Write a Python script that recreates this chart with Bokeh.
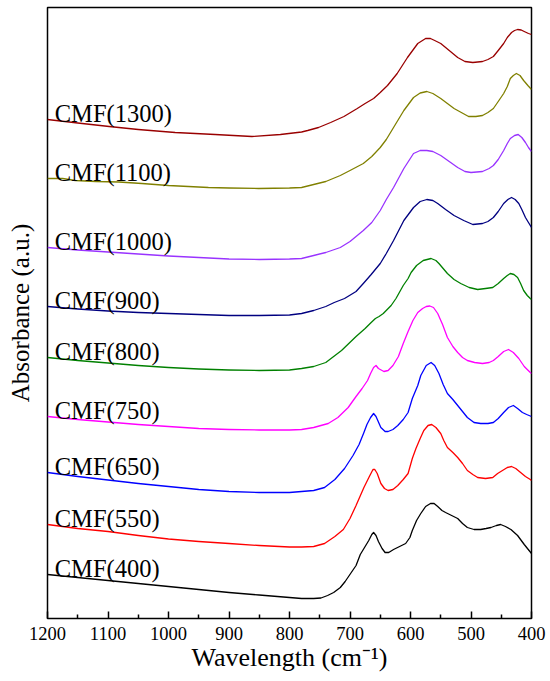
from bokeh.plotting import figure
from bokeh.models import Range1d, FixedTicker, ColumnDataSource
from bokeh.core.properties import value
from bokeh.embed import file_html
from bokeh.resources import INLINE

# ---- data: (wavenumber cm^-1, absorbance a.u. incl. stacking offset) ----
cmf400 = [(1200,0.44),(1150,0.41),(1100,0.38),(1050,0.35),(1000,0.32),(950,0.29),(900,0.26),(850,0.235),
          (800,0.21),(780,0.20),(760,0.20),(748,0.205),(737,0.23),(727,0.26),(716,0.31),(708,0.37),(699,0.45),
          (690,0.53),(683,0.64),(676,0.71),(669,0.78),(664,0.84),(661,0.86),(657,0.83),(653,0.77),(647,0.70),
          (642,0.66),(636,0.66),(628,0.69),(618,0.72),(608,0.75),(601,0.81),(597,0.88),(590,0.98),(583,1.05),
          (575,1.12),(567,1.15),(561,1.15),(555,1.12),(548,1.08),(542,1.06),(532,1.03),(522,1.00),(514,0.95),
          (506,0.91),(495,0.89),(484,0.89),(475,0.90),(467,0.91),(458,0.93),(451,0.94),(443,0.92),(434,0.89),
          (423,0.83),(412,0.74),(404,0.68),(400,0.65)]
cmf550 = [(1200,0.94),(1150,0.90),(1100,0.87),(1050,0.83),(1000,0.795),(950,0.77),(900,0.75),(850,0.73),
          (800,0.715),(780,0.715),(760,0.72),(742,0.75),(725,0.82),(711,0.89),(700,1.00),(690,1.13),(677,1.31),
          (668,1.42),(662,1.49),(659,1.49),(655,1.45),(649,1.35),(643,1.30),(637,1.28),(629,1.29),(621,1.33),
          (612,1.39),(604,1.45),(597,1.60),(591,1.70),(584,1.80),(578,1.88),(571,1.93),(565,1.94),(558,1.91),
          (550,1.85),(545,1.78),(539,1.71),(530,1.66),(522,1.61),(514,1.55),(506,1.48),(497,1.44),(489,1.41),
          (476,1.40),(464,1.41),(456,1.45),(448,1.48),(440,1.51),(433,1.52),(426,1.50),(418,1.46),(410,1.42),
          (402,1.39),(400,1.38)]
cmf650 = [(1200,1.46),(1150,1.42),(1100,1.385),(1050,1.35),(1000,1.32),(950,1.29),(900,1.27),(850,1.26),
          (800,1.26),(780,1.27),(760,1.28),(742,1.31),(725,1.39),(709,1.50),(695,1.63),(685,1.74),(677,1.86),
          (672,1.94),(666,2.01),(661,2.05),(657,2.02),(649,1.91),(642,1.87),(637,1.87),(629,1.89),(621,1.93),
          (612,1.99),(604,2.06),(597,2.20),(588,2.33),(583,2.43),(574,2.53),(566,2.56),(560,2.53),(553,2.45),
          (546,2.34),(539,2.25),(530,2.19),(522,2.13),(514,2.07),(506,2.01),(495,1.96),(484,1.95),(472,1.95),
          (463,1.96),(455,2.00),(446,2.06),(438,2.11),(430,2.13),(423,2.10),(415,2.06),(408,2.04),(400,2.02)]
cmf750 = [(1200,2.02),(1150,1.99),(1100,1.965),(1050,1.94),(1000,1.92),(950,1.90),(900,1.89),(850,1.885),
          (800,1.885),(780,1.89),(760,1.91),(736,1.95),(720,2.01),(703,2.11),(690,2.22),(680,2.30),(671,2.38),
          (666,2.45),(661,2.51),(657,2.53),(653,2.50),(644,2.47),(637,2.48),(629,2.53),(620,2.62),(612,2.75),
          (604,2.87),(596,2.98),(588,3.06),(580,3.10),(574,3.12),(568,3.125),(562,3.11),(555,3.05),(547,2.94),
          (539,2.81),(530,2.72),(522,2.66),(514,2.61),(506,2.58),(494,2.56),(481,2.55),(470,2.56),(463,2.58),
          (455,2.62),(446,2.67),(438,2.69),(430,2.66),(421,2.60),(412,2.52),(402,2.46),(400,2.45)]
cmf800 = [(1200,2.61),(1150,2.58),(1100,2.555),(1050,2.53),(1000,2.51),(950,2.495),(900,2.485),(850,2.48),
          (800,2.485),(780,2.50),(760,2.52),(740,2.56),(714,2.68),(690,2.82),(675,2.90),(665,2.96),(658,3.00),
          (652,3.02),(645,3.05),(632,3.13),(624,3.20),(612,3.33),(604,3.40),(599,3.46),(590,3.53),(579,3.58),
          (566,3.60),(558,3.58),(553,3.55),(546,3.50),(539,3.45),(528,3.39),(517,3.35),(503,3.31),(489,3.29),
          (476,3.30),(464,3.31),(455,3.35),(446,3.40),(440,3.43),(435,3.45),(429,3.44),(423,3.41),(418,3.35),
          (413,3.28),(407,3.23),(402,3.20),(400,3.19)]
cmf900 = [(1200,3.12),(1150,3.095),(1100,3.075),(1050,3.06),(1000,3.05),(950,3.04),(900,3.03),(850,3.03),
          (800,3.035),(780,3.05),(760,3.08),(740,3.12),(726,3.16),(709,3.20),(690,3.27),(678,3.35),(665,3.44),
          (650,3.55),(640,3.65),(628,3.78),(611,3.98),(595,4.11),(584,4.17),(573,4.19),(563,4.18),(555,4.15),
          (542,4.09),(528,4.03),(512,3.98),(497,3.94),(481,3.95),(472,3.97),(463,4.01),(455,4.07),(446,4.15),
          (439,4.19),(433,4.21),(427,4.19),(421,4.15),(416,4.09),(410,4.01),(405,3.96),(400,3.91)]
cmf1000 = [(1200,3.71),(1150,3.685),(1100,3.665),(1050,3.645),(1000,3.625),(950,3.61),(900,3.595),(850,3.59),
           (800,3.595),(780,3.60),(760,3.63),(740,3.66),(716,3.71),(700,3.77),(678,3.88),(664,3.96),(650,4.08),
           (640,4.19),(628,4.31),(611,4.50),(595,4.65),(584,4.68),(573,4.68),(563,4.67),(550,4.63),(536,4.57),
           (522,4.51),(510,4.47),(500,4.46),(481,4.47),(470,4.50),(463,4.53),(455,4.59),(446,4.68),(440,4.75),
           (435,4.80),(428,4.83),(422,4.84),(416,4.81),(410,4.76),(405,4.71),(400,4.67)]
cmf1100 = [(1200,4.40),(1175,4.40),(1154,4.38),(1120,4.37),(1082,4.365),(1044,4.35),(1000,4.33),(934,4.31),
           (900,4.305),(851,4.30),(800,4.305),(780,4.31),(760,4.34),(740,4.37),(716,4.43),(700,4.48),(678,4.55),
           (664,4.62),(650,4.71),(640,4.79),(628,4.91),(611,5.08),(595,5.21),(584,5.255),(573,5.27),(563,5.25),
           (550,5.20),(539,5.15),(528,5.10),(516,5.06),(504,5.02),(492,5.02),(481,5.03),(472,5.06),(463,5.10),
           (455,5.17),(446,5.25),(440,5.32),(435,5.40),(430,5.43),(425,5.45),(419,5.43),(413,5.38),(406,5.33),
           (400,5.29)]
cmf1300 = [(1200,4.99),(1150,4.955),(1098,4.92),(1050,4.89),(989,4.86),(923,4.84),(862,4.82),(815,4.84),
           (780,4.865),(770,4.88),(752,4.91),(732,4.96),(710,5.02),(688,5.10),(675,5.15),(661,5.20),(650,5.26),
           (638,5.33),(622,5.45),(605,5.61),(588,5.75),(575,5.80),(567,5.80),(560,5.78),(550,5.75),(536,5.68),
           (522,5.61),(510,5.57),(497,5.56),(481,5.57),(472,5.59),(463,5.62),(455,5.68),(446,5.75),(440,5.81),
           (433,5.86),(428,5.88),(423,5.89),(417,5.885),(412,5.87),(405,5.85),(400,5.84)]

series_names = ["CMF(400)", "CMF(550)", "CMF(650)", "CMF(750)", "CMF(800)",
                "CMF(900)", "CMF(1000)", "CMF(1100)", "CMF(1300)"]
series_data = [cmf400, cmf550, cmf650, cmf750, cmf800, cmf900, cmf1000, cmf1100, cmf1300]
series_colors = ["#000000", "#FF0000", "#0000FF", "#FF00FF", "#008000",
                 "#000080", "#9933FF", "#808000", "#990000"]

x_ticks = [1200, 1100, 1000, 900, 800, 700, 600, 500, 400]
x_minor = [1150, 1050, 950, 850, 750, 650, 550, 450]

FONT = "Liberation Serif"

p = figure(width=550, height=681, output_backend="svg", toolbar_location=None,
           x_range=Range1d(1200, 400), y_range=Range1d(0, 6.11),
           min_border_left=47, min_border_right=19, min_border_top=7, min_border_bottom=63)
p.background_fill_color = "white"
p.border_fill_color = "white"
p.outline_line_color = "black"
p.outline_line_width = 1.5
p.grid.visible = False

for name, pts, col in zip(series_names, series_data, series_colors):
    xs = [a for a, b in pts]
    ys = [b for a, b in pts]
    p.line(xs, ys, line_color=col, line_width=1.3, line_join="round")

label_src = ColumnDataSource(dict(
    x=[1188] * len(series_names),
    y=[pts[0][1] + 0.06 for pts in series_data],
    t=series_names))
p.text(x="x", y="y", text="t", source=label_src, text_font=value(FONT),
       text_font_size="24.5px", text_baseline="alphabetic", text_align="left",
       text_color="black")

xa = p.xaxis[0]
xa.ticker = FixedTicker(ticks=x_ticks, minor_ticks=x_minor)
xa.axis_line_color = None
xa.major_tick_in = 7
xa.major_tick_out = 0
xa.minor_tick_in = 4
xa.minor_tick_out = 0
xa.major_tick_line_width = 1.5
xa.minor_tick_line_width = 1.5
xa.major_tick_line_color = "black"
xa.minor_tick_line_color = "black"
xa.major_label_text_font = FONT
xa.major_label_text_font_size = "18.5px"
xa.major_label_text_color = "black"
xa.major_label_standoff = 8
xa.axis_label = "Wavelength (cm\u207b\u00b9)"
xa.axis_label_text_font = FONT
xa.axis_label_text_font_size = "26px"
xa.axis_label_text_font_style = "normal"
xa.axis_label_text_color = "black"
xa.axis_label_standoff = 0

ya = p.yaxis[0]
ya.ticker = FixedTicker(ticks=[])
ya.axis_line_color = None
ya.major_tick_line_color = None
ya.minor_tick_line_color = None
ya.major_label_text_font_size = "0px"
ya.axis_label = "Absorbance (a.u.)"
ya.axis_label_text_font = FONT
ya.axis_label_text_font_size = "25px"
ya.axis_label_text_font_style = "normal"
ya.axis_label_text_color = "black"
ya.axis_label_standoff = 14

open("out.html", "w").write(file_html(p, INLINE))
